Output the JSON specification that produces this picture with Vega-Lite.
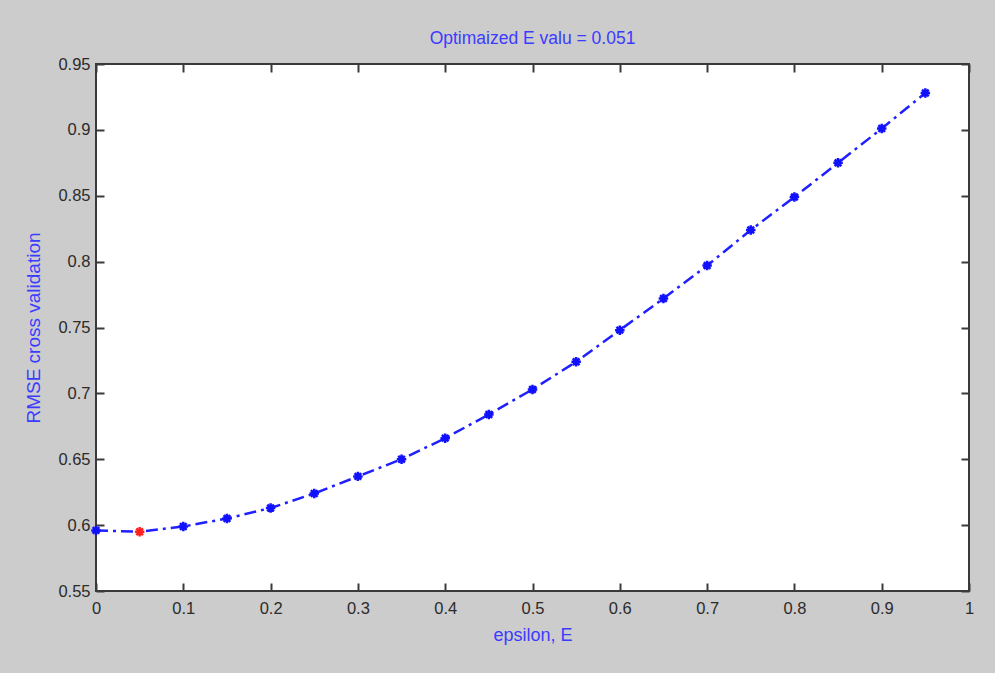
{
  "$schema": "https://vega.github.io/schema/vega-lite/v6.json",
  "width": 873,
  "height": 527,
  "autosize": {"type": "none"},
  "padding": {"left": 96, "top": 64, "right": 26, "bottom": 82},
  "background": "#cccccc",
  "config": {
    "view": {"fill": "white", "stroke": "#3a3a3a", "strokeWidth": 2},
    "font": "Liberation Sans",
    "axis": {
      "grid": false,
      "domain": false,
      "ticks": true,
      "tickColor": "#3a3a3a",
      "tickWidth": 2,
      "tickSize": -8,
      "labelColor": "#2b2b2b",
      "labelFontSize": 16.5,
      "labelFlush": false,
      "labelFont": "Liberation Sans, sans-serif",
      "titleColor": "#3b3bff",
      "titleFontWeight": "normal",
      "titleFont": "Liberation Sans, sans-serif"
    }
  },
  "title": {
    "text": "Optimaized E valu = 0.051",
    "color": "#3b3bff",
    "fontSize": 17.5,
    "fontWeight": "normal",
    "font": "Liberation Sans, sans-serif",
    "offset": 9
  },
  "data": {
    "values": [
      {"e": 0.0, "rmse": 0.596, "kind": "normal"},
      {"e": 0.05, "rmse": 0.595, "kind": "min"},
      {"e": 0.1, "rmse": 0.599, "kind": "normal"},
      {"e": 0.15, "rmse": 0.605, "kind": "normal"},
      {"e": 0.2, "rmse": 0.613, "kind": "normal"},
      {"e": 0.25, "rmse": 0.624, "kind": "normal"},
      {"e": 0.3, "rmse": 0.637, "kind": "normal"},
      {"e": 0.35, "rmse": 0.650, "kind": "normal"},
      {"e": 0.4, "rmse": 0.666, "kind": "normal"},
      {"e": 0.45, "rmse": 0.684, "kind": "normal"},
      {"e": 0.5, "rmse": 0.703, "kind": "normal"},
      {"e": 0.55, "rmse": 0.724, "kind": "normal"},
      {"e": 0.6, "rmse": 0.748, "kind": "normal"},
      {"e": 0.65, "rmse": 0.772, "kind": "normal"},
      {"e": 0.7, "rmse": 0.797, "kind": "normal"},
      {"e": 0.75, "rmse": 0.824, "kind": "normal"},
      {"e": 0.8, "rmse": 0.849, "kind": "normal"},
      {"e": 0.85, "rmse": 0.875, "kind": "normal"},
      {"e": 0.9, "rmse": 0.901, "kind": "normal"},
      {"e": 0.95, "rmse": 0.928, "kind": "normal"}
    ]
  },
  "layer": [
    {
      "mark": {"type": "line", "color": "#2020ff", "strokeWidth": 2.5, "strokeDash": [12, 5, 3, 5]},
      "encoding": {
        "x": {"field": "e", "type": "quantitative", "scale": {"domain": [0, 1], "nice": false},
          "axis": {"orient": "bottom", "title": "epsilon, E", "format": "~g", "values": [0, 0.1, 0.2, 0.3, 0.4, 0.5, 0.6, 0.7, 0.8, 0.9, 1], "labelPadding": 17, "titlePadding": 10, "titleFontSize": 18}},
        "y": {"field": "rmse", "type": "quantitative", "scale": {"domain": [0.55, 0.95], "nice": false, "zero": false},
          "axis": {"orient": "left", "title": "RMSE cross validation", "format": "~g", "values": [0.55, 0.6, 0.65, 0.7, 0.75, 0.8, 0.85, 0.9, 0.95], "labelPadding": 14, "titlePadding": 14, "titleFontSize": 19}}
      }
    },
    {
      "mark": {"type": "point", "shape": "M-1,0L1,0M0,-1L0,1M-0.7,-0.7L0.7,0.7M-0.7,0.7L0.7,-0.7", "size": 90, "strokeWidth": 2.5, "filled": false, "opacity": 1},
      "encoding": {
        "x": {"field": "e", "type": "quantitative", "scale": {"domain": [0, 1], "nice": false},
          "axis": {"orient": "top", "labels": false, "title": null, "values": [0, 0.1, 0.2, 0.3, 0.4, 0.5, 0.6, 0.7, 0.8, 0.9, 1]}},
        "y": {"field": "rmse", "type": "quantitative", "scale": {"domain": [0.55, 0.95], "nice": false, "zero": false},
          "axis": {"orient": "right", "labels": false, "title": null, "values": [0.55, 0.6, 0.65, 0.7, 0.75, 0.8, 0.85, 0.9, 0.95]}},
        "color": {"field": "kind", "type": "nominal", "scale": {"domain": ["normal", "min"], "range": ["#1010ff", "#ff2020"]}, "legend": null}
      }
    }
  ],
  "resolve": {"axis": {"x": "independent", "y": "independent"}}
}
